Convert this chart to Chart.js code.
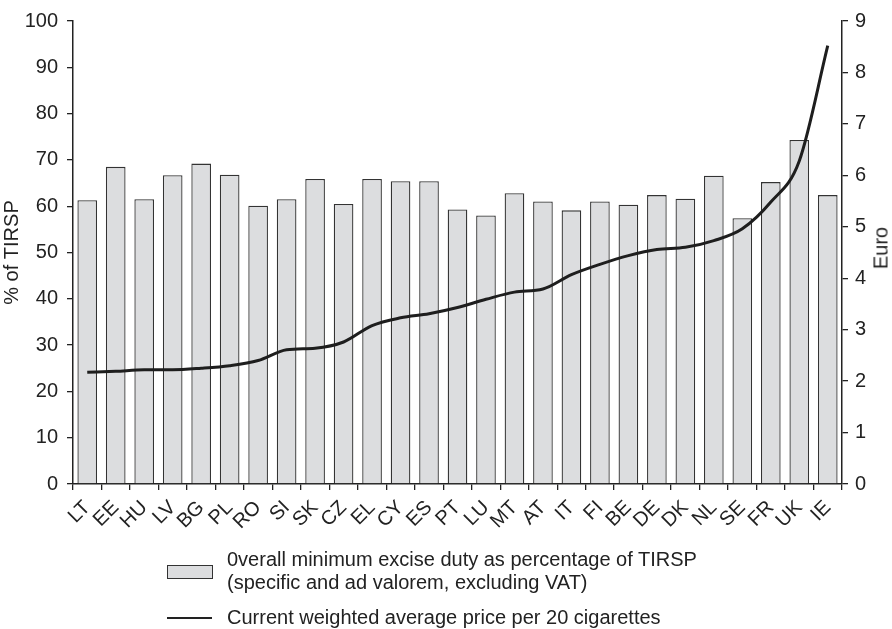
<!DOCTYPE html>
<html>
<head>
<meta charset="utf-8">
<script src="https://cdn.jsdelivr.net/npm/chart.js@4"></script>
<style>
  html, body { margin:0; padding:0; background:#fff; }
  #wrap { position:relative; width:892px; height:629px; font-family:"Liberation Sans", Arial, sans-serif; color:#222; }
  canvas { position:absolute; left:0; top:0; }
  .lg { position:absolute; font-size:20px; line-height:23px; color:#222; white-space:nowrap; }
  #euro { position:absolute; left:881px; top:248px; font-size:20px; transform:translate(-50%,-50%) rotate(-90deg); white-space:nowrap; color:#222; }
  #sw1 { position:absolute; left:167px; top:565px; width:44px; height:12px; background:#dcdddf; border:1.5px solid #333; }
  #sw2 { position:absolute; left:167px; top:617px; width:45px; height:0; border-top:2.5px solid #222; }
</style>
</head>
<body>
<div id="wrap">
  <canvas id="c" width="892" height="629"></canvas>
  <div id="euro">Euro</div>
  <div id="sw1"></div>
  <div class="lg" style="left:227px; top:548px;">0verall minimum excise duty as percentage of TIRSP<br>(specific and ad valorem, excluding VAT)</div>
  <div id="sw2"></div>
  <div class="lg" style="left:227px; top:606px;">Current weighted average price per 20 cigarettes</div>
</div>
<script>
const categories = ["LT","EE","HU","LV","BG","PL","RO","SI","SK","CZ","EL","CY","ES","PT","LU","MT","AT","IT","FI","BE","DE","DK","NL","SE","FR","UK","IE"];
const exciseShare = [61.3,68.5,61.5,66.7,69.2,66.8,60.1,61.5,65.9,60.5,65.9,65.4,65.4,59.3,58.0,62.8,61.0,59.1,61.0,60.3,62.4,61.6,66.6,57.4,65.2,74.3,62.4];
const avgPrice = [2.17,2.19,2.22,2.22,2.25,2.30,2.40,2.61,2.64,2.76,3.08,3.23,3.31,3.43,3.59,3.73,3.79,4.07,4.27,4.44,4.56,4.60,4.73,4.96,5.48,6.28,8.52];
const leftTicks = [0,10,20,30,40,50,60,70,80,90,100];
const rightTicks = [0,1,2,3,4,5,6,7,8,9];

const FONT = {family:"'Liberation Sans', Arial, sans-serif", size:20};
const AX = '#222';

new Chart(document.getElementById('c'), {
  data: {
    labels: categories,
    datasets: [
      { type:'line', label:'Current weighted average price per 20 cigarettes', data:avgPrice, yAxisID:'y1',
        borderColor:'#1e1e1e', borderWidth:3, pointRadius:0, cubicInterpolationMode:'monotone', order:0 },
      { type:'bar', label:'Overall minimum excise duty as percentage of TIRSP', data:exciseShare, yAxisID:'y',
        backgroundColor:'#dcdddf', borderColor:'#333', borderWidth:1.3, barPercentage:0.69, categoryPercentage:1.0, order:1 }
    ]
  },
  options: {
    responsive:false, animation:false,
    layout:{ padding:{ top:15, left:0, right:0, bottom:0 } },
    plugins:{ legend:{display:false}, tooltip:{enabled:false} },
    scales:{
      x:{
        offset:true,
        grid:{ display:true, drawOnChartArea:false, drawTicks:true, tickLength:6, color:AX, lineWidth:1.3, offset:true },
        border:{ color:AX, width:1.5 },
        ticks:{ color:AX, font:FONT, minRotation:45, maxRotation:45, autoSkip:false, padding:6 },
        afterFit(s){ s.height = 629 - 484; }
      },
      y:{
        position:'left', min:0, max:100,
        afterBuildTicks(s){ s.ticks = leftTicks.map(v=>({value:v})); },
        grid:{ drawOnChartArea:false, drawTicks:true, tickLength:6, color:AX, lineWidth:1.3 },
        border:{ color:AX, width:1.5 },
        ticks:{ color:AX, font:FONT, padding:9 },
        title:{ display:true, text:'% of TIRSP', color:AX, font:FONT, padding:{top:0,bottom:2} },
        afterFit(s){ s.width = 73; }
      },
      y1:{
        position:'right', min:0, max:9,
        afterBuildTicks(s){ s.ticks = rightTicks.map(v=>({value:v})); },
        grid:{ drawOnChartArea:false, drawTicks:true, tickLength:6, color:AX, lineWidth:1.3 },
        border:{ color:AX, width:1.5 },
        ticks:{ color:AX, font:FONT, padding:7 },
        afterFit(s){ s.width = 892 - 842; }
      }
    }
  }
});
</script>
</body>
</html>
